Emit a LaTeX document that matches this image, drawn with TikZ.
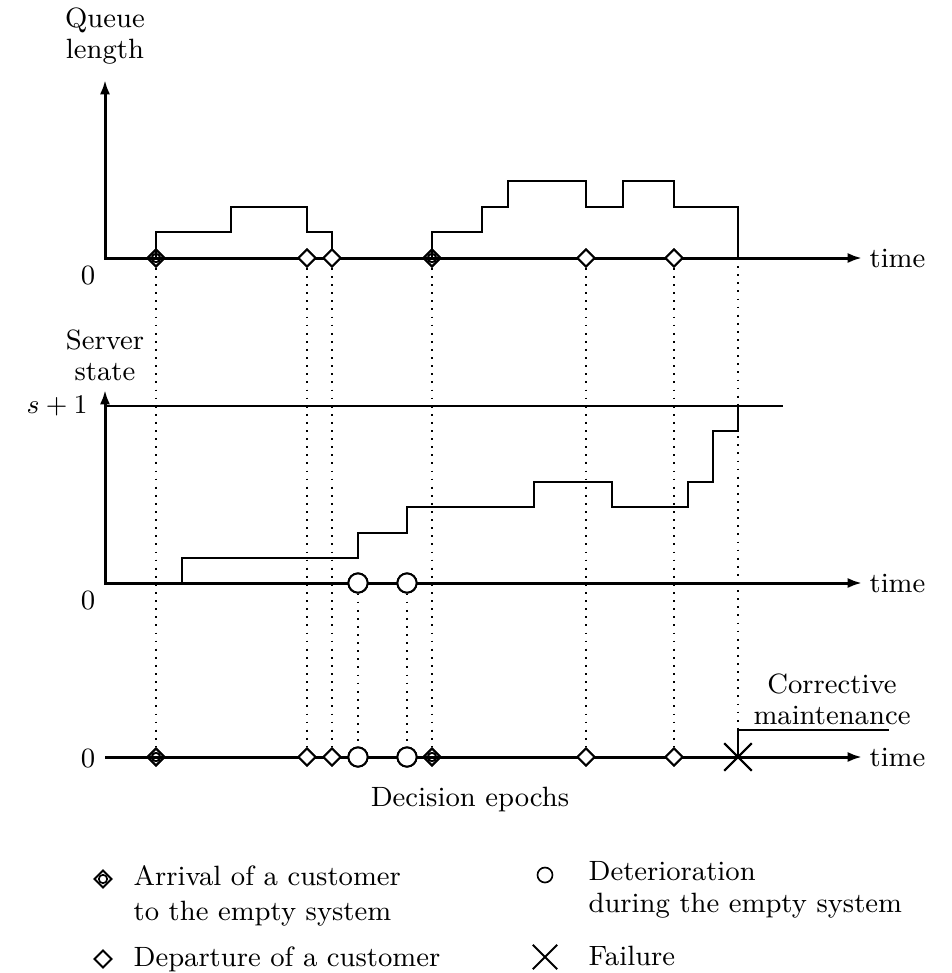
\documentclass[tikz,border=0pt]{standalone}
\usetikzlibrary{shapes.geometric,shapes.misc,arrows.meta}
\begin{document}
\begin{tikzpicture}[x=0.3333pt,y=-0.3333pt,
  font=\fontsize{9.3}{10.4}\selectfont,
  axis/.style={line width=1pt},
  tip/.style={-{Latex[length=4.8pt,width=3.4pt]}},
  bothtips/.style={{Latex[length=4.8pt,width=3.4pt]}-{Latex[length=4.8pt,width=3.4pt]}},
  stepline/.style={line width=0.7pt},
  thinline/.style={line width=0.45pt},
  guide/.style={line width=0.6pt,dash pattern=on 0.6pt off 2.1pt},
  dep/.style={diamond,draw,fill=white,minimum width=6pt,minimum height=6pt,inner sep=0pt,line width=0.65pt},
  arr/.style={dep,fill=none,path picture={\draw[line width=0.55pt] (path picture bounding box.center) circle[radius=1.4pt];}},
  det/.style={circle,draw,fill=white,minimum size=6.4pt,inner sep=0pt,line width=0.65pt},
  smalldet/.style={circle,draw,fill=white,minimum size=5pt,inner sep=0pt,line width=0.55pt},
  fail/.style={cross out,draw,minimum size=8.5pt,inner sep=0pt,line width=0.65pt},
  lbl/.style={align=center,inner sep=0pt},
  legtext/.style={anchor=base west,inner sep=0pt}]
\useasboundingbox (0,0) rectangle (952,973);

% ---------- top plot: queue length ----------
\node[lbl] (ql) at (105,36) {Queue\\length};
\node[lbl] (z1) at (88,276) {0};
\draw[axis,bothtips] (105,80) -- (105,258) -- (862,258);
\node[lbl,anchor=west] (time1) at (869,258) {time};
\draw[stepline] (156,258) -- (156,232) -- (231,232) -- (231,207) -- (307,207) -- (307,232) -- (332,232) -- (332,258);
\draw[stepline] (432,258) -- (432,232) -- (482,232) -- (482,207) -- (508,207) -- (508,181) -- (586,181) -- (586,207) -- (623,207) -- (623,181) -- (674,181) -- (674,207) -- (738,207) -- (738,258);

% ---------- middle plot: server state ----------
\node[lbl] (ss) at (105,355) {Server\\state};
\node[lbl,anchor=east] (s1) at (88,406) {$s+1$};
\node[lbl] (z2) at (88,601) {0};
\draw[thinline] (105,406) -- (783,406);
\draw[axis,bothtips] (105,390) -- (105,583) -- (862,583);
\node[lbl,anchor=west] (time2) at (869,583) {time};
\draw[stepline] (182,583) -- (182,558) -- (358,558) -- (358,533) -- (407,533) -- (407,507) -- (534,507) -- (534,482) -- (612,482) -- (612,507) -- (688,507) -- (688,482) -- (713,482) -- (713,431) -- (738,431) -- (738,406);

% ---------- bottom axis: decision epochs ----------
\node[lbl] (z3) at (88,759) {0};
\draw[axis,tip] (105,757) -- (862,757);
\node[lbl,anchor=west] (time3) at (869,757) {time};
\node[lbl] (de) at (470,800) {Decision epochs};

% markers
\coordinate (drop) at (738,258);
\node[arr] (ta1) at (156,258) {};
\node[dep] (td1) at (307,258) {};
\node[dep] (td2) at (332,258) {};
\node[arr] (ta2) at (432,258) {};
\node[dep] (td3) at (586,258) {};
\node[dep] (td4) at (674,258) {};
\node[det] (mc1) at (358,583) {};
\node[det] (mc2) at (407,583) {};
\node[arr] (ba1) at (156,757) {};
\node[dep] (bd1) at (307,757) {};
\node[dep] (bd2) at (332,757) {};
\node[det] (bc1) at (358,757) {};
\node[det] (bc2) at (407,757) {};
\node[arr] (ba2) at (432,757) {};
\node[dep] (bd3) at (586,757) {};
\node[dep] (bd4) at (674,757) {};
\node[fail] (bx) at (738,757) {};

% dotted guide lines
\draw[guide] (ta1) -- (ba1);
\draw[guide] (td1) -- (bd1);
\draw[guide] (td2) -- (bd2);
\draw[guide] (ta2) -- (ba2);
\draw[guide] (td3) -- (bd3);
\draw[guide] (td4) -- (bd4);
\draw[guide] (mc1) -- (bc1);
\draw[guide] (mc2) -- (bc2);
\draw[guide] (drop) -- (738,735);

% corrective maintenance
\coordinate (cm1) at (738,730);
\coordinate (cm2) at (889,730);
\draw[thinline,line width=0.5pt] (bx.center) -- (cm1) -- (cm2);
\node[lbl] (cm) at (832,699) {Corrective\\maintenance};

% redraw markers on top of the guides
\node[arr] at (ta1) {};
\node[dep] at (td1) {};
\node[dep] at (td2) {};
\node[arr] at (ta2) {};
\node[dep] at (td3) {};
\node[dep] at (td4) {};
\node[det] at (mc1) {};
\node[det] at (mc2) {};
\node[arr] at (ba1) {};
\node[dep] at (bd1) {};
\node[dep] at (bd2) {};
\node[det] at (bc1) {};
\node[det] at (bc2) {};
\node[arr] at (ba2) {};
\node[dep] at (bd3) {};
\node[dep] at (bd4) {};
\node[fail] at (bx) {};

% ---------- legend ----------
\node[arr] (la) at (103,879) {};
\node[legtext] (lat1) at (133,885) {Arrival of a customer};
\node[legtext] (lat2) at (133,920) {to the empty system};
\node[dep] (ld) at (103,959) {};
\node[legtext] (ldt) at (133,966) {Departure of a customer};
\node[smalldet] (lc) at (545,875) {};
\node[legtext] (lct1) at (588,880) {Deterioration};
\node[legtext] (lct2) at (588,912) {during the empty system};
\node[fail,minimum size=7.5pt] (lx) at (545,957) {};
\node[legtext] (lxt) at (588,965) {Failure};
\end{tikzpicture}
\end{document}
